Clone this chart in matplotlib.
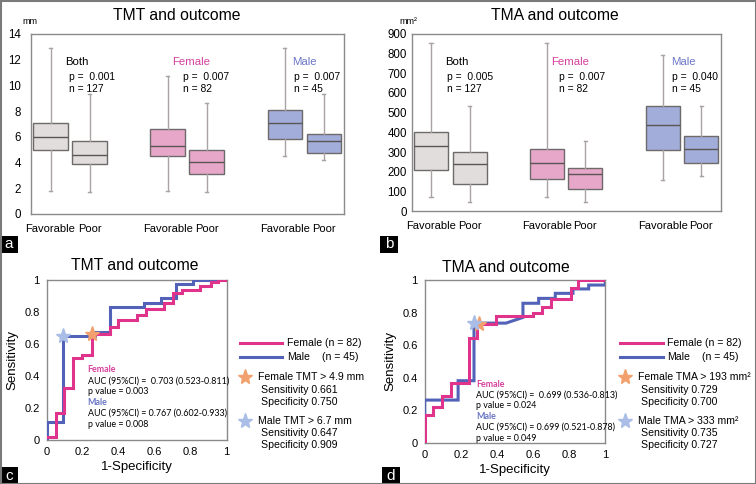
import matplotlib
matplotlib.use("Agg")
import matplotlib.pyplot as plt
from matplotlib.lines import Line2D
from matplotlib.patches import Rectangle

W, H = 756, 484
SANS = ["Liberation Sans", "DejaVu Sans"]
CAL = ["Lato", "DejaVu Sans"]
CAL_SIZE = 6.4
plt.rcParams["font.family"] = SANS

# ---------------- data ----------------
box_labels = ["Favorable", "Poor", "Favorable", "Poor", "Favorable", "Poor"]
groups = ["Both", "Female", "Male"]
group_p_tmt = ["0.001", "0.007", "0.007"]
group_p_tma = ["0.005", "0.007", "0.040"]
group_n = ["127", "82", "45"]

tmt_whislo = [1.8, 1.75, 1.8, 1.75, 4.5, 4.2]
tmt_q1 = [4.95, 3.9, 4.5, 3.1, 5.85, 4.75]
tmt_med = [6.0, 4.6, 5.3, 4.05, 7.05, 5.7]
tmt_q3 = [7.1, 5.7, 6.6, 4.95, 8.1, 6.25]
tmt_whishi = [12.9, 9.3, 10.75, 8.65, 12.9, 9.3]

tma_whislo = [71, 47, 71, 47, 160, 177]
tma_q1 = [211, 138, 164, 113, 312, 243]
tma_med = [329, 240, 243, 188, 436, 317]
tma_q3 = [403, 302, 316, 218, 532, 380]
tma_whishi = [851, 532, 851, 358, 792, 532]

# ROC TMT
tmt_f_fpr = [0, 0.05, 0.05, 0.096, 0.096, 0.148, 0.148, 0.196, 0.196, 0.25, 0.25, 0.352, 0.352,
             0.398, 0.398, 0.5, 0.5, 0.55, 0.55, 0.65, 0.65, 0.70, 0.70, 0.75, 0.75, 0.85, 0.85,
             0.91, 0.91, 0.95, 0.95, 1.0]
tmt_f_tpr = [0.02, 0.02, 0.167, 0.167, 0.323, 0.323, 0.51, 0.51, 0.531, 0.531, 0.661, 0.661, 0.708,
             0.708, 0.75, 0.75, 0.781, 0.781, 0.817, 0.817, 0.854, 0.854, 0.92, 0.92, 0.9375, 0.9375,
             0.965, 0.965, 0.985, 0.985, 1.0, 1.0]
tmt_m_fpr = [0, 0, 0.091, 0.091, 0.27, 0.27, 0.352, 0.352, 0.54, 0.54, 0.633, 0.633, 0.72, 0.72,
             0.815, 0.815, 1.0]
tmt_m_tpr = [0, 0.115, 0.115, 0.647, 0.647, 0.675, 0.675, 0.83, 0.83, 0.854, 0.854, 0.885, 0.885,
             0.975, 0.975, 1.0, 1.0]

# ROC TMA
tma_f_fpr = [0, 0, 0.046, 0.046, 0.096, 0.096, 0.144, 0.144, 0.245, 0.245, 0.29, 0.29, 0.30, 0.30,
             0.397, 0.397, 0.6, 0.6, 0.651, 0.651, 0.701, 0.701, 0.808, 0.808, 0.849, 0.849, 1.0]
tma_f_tpr = [0, 0.17, 0.17, 0.221, 0.221, 0.287, 0.287, 0.369, 0.369, 0.641, 0.641, 0.729, 0.729,
             0.729, 0.729, 0.779, 0.779, 0.8, 0.8, 0.832, 0.832, 0.881, 0.881, 0.953, 0.953, 1.0, 1.0]
tma_m_fpr = [0, 0, 0.185, 0.185, 0.273, 0.273, 0.45, 0.544, 0.544, 0.631, 0.631, 0.723, 0.723,
             0.821, 0.821, 0.908, 0.908, 1.0, 1.0]
tma_m_tpr = [0, 0.262, 0.262, 0.381, 0.381, 0.735, 0.735, 0.77, 0.857, 0.857, 0.887, 0.887, 0.918,
             0.918, 0.945, 0.945, 0.969, 0.969, 0.985]

cut_f_tmt = (0.25, 0.661)
cut_m_tmt = (0.091, 0.647)
cut_f_tma = (0.30, 0.729)
cut_m_tma = (0.273, 0.735)

# ---------------- style ----------------
C_GRAY = "#e2dddd"
C_PINK = "#e7a7c9"
C_BLUE = "#a2add9"
C_EDGE = "#6e6a6a"
C_WHISK = "#a9a3a3"
T_PINK = "#d6409e"
T_BLUE = "#6a76c6"
L_PINK = "#e0338c"
L_BLUE = "#5262b8"
S_ORANGE = "#f2a16e"
S_BLUE = "#a9bde6"
FRAME = "#8a8a8a"

fig = plt.figure(figsize=(W / 100, H / 100), dpi=100)


def rect(x0, y0, x1, y1):
    return [x0 / W, 1 - y1 / H, (x1 - x0) / W, (y1 - y0) / H]


def ftext(x, y, s, **kw):
    kw.setdefault("va", "center")
    return fig.text(x / W, 1 - y / H, s, **kw)


def style_frame(ax):
    for sp in ax.spines.values():
        sp.set_color(FRAME)
        sp.set_linewidth(1.0)
    ax.tick_params(length=0, colors="black")


positions = [1, 2, 4, 5, 7, 8]
fills = [C_GRAY, C_GRAY, C_PINK, C_PINK, C_BLUE, C_BLUE]


def box_panel(r, wlo, q1, med, q3, whi, ylim, yticks, ypad, title, unit, unit_xy, title_xy,
              ann_xy, pvals):
    ax = fig.add_axes(rect(*r))
    stats = []
    for i in range(6):
        stats.append(dict(med=med[i], q1=q1[i], q3=q3[i], whislo=wlo[i], whishi=whi[i],
                          label=box_labels[i]))
    bp = ax.bxp(stats, positions=positions, widths=0.88, showfliers=False, patch_artist=True,
                capwidths=0.08,
                boxprops=dict(edgecolor=C_EDGE, linewidth=1.0),
                medianprops=dict(color="#5a5555", linewidth=1.0),
                whiskerprops=dict(color=C_WHISK, linewidth=1.0),
                capprops=dict(color=C_WHISK, linewidth=1.0))
    for patch, c in zip(bp["boxes"], fills):
        patch.set_facecolor(c)
    ax.set_xlim(0.5, 8.52)
    ax.set_ylim(*ylim)
    ax.set_yticks(yticks)
    style_frame(ax)
    ax.tick_params(axis="y", pad=ypad, labelsize=8.3)
    ax.tick_params(axis="x", pad=7, labelsize=8.0)
    ftext(title_xy[0], title_xy[1], title, fontsize=11.3, ha="center")
    ftext(unit_xy[0], unit_xy[1], unit, fontsize=6.5, ha="left")
    cols = ["black", T_PINK, T_BLUE]
    for i, g in enumerate(groups):
        gx, gy, px = ann_xy[i]
        ftext(gx, gy, g, fontsize=8.2, color=cols[i], ha="left")
        ftext(px, gy + 15, "p =  " + pvals[i], fontsize=7.4, ha="left")
        ftext(px, gy + 27, "n = " + group_n[i], fontsize=7.4, ha="left")
    return ax


box_panel((31, 34, 344, 214), tmt_whislo, tmt_q1, tmt_med, tmt_q3, tmt_whishi,
          (0, 14), list(range(0, 15, 2)), 7, "TMT and outcome", "mm", (22, 22), (177, 16),
          [(65, 62, 69), (172, 62, 183), (292, 62, 294)], group_p_tmt)
box_panel((411.7, 33.7, 721.3, 211.3), tma_whislo, tma_q1, tma_med, tma_q3, tma_whishi,
          (0, 900), list(range(0, 901, 100)), 3.5, "TMA and outcome", "mm²", (399, 22),
          (555, 16), [(444.7, 62, 446.7), (550.7, 62, 559.3), (671.3, 62, 671.7)], group_p_tma)


def roc_panel(r, ffpr, ftpr, mfpr, mtpr, cf, cm, title, title_xy, ann_x, ann_y0, ann_lines,
              leg_x, cut_texts):
    ax = fig.add_axes(rect(*r))
    ax.plot(mfpr, mtpr, color=L_BLUE, lw=2.2, solid_joinstyle="miter", zorder=3)
    ax.plot(ffpr, ftpr, color=L_PINK, lw=2.2, solid_joinstyle="miter", zorder=3)
    ax.plot([cf[0]], [cf[1]], marker="*", ms=11, color=S_ORANGE, mec=S_ORANGE, zorder=5,
            clip_on=False)
    ax.plot([cm[0]], [cm[1]], marker="*", ms=11, color=S_BLUE, mec=S_BLUE, zorder=5,
            clip_on=False)
    ax.set_xlim(0, 1)
    ax.set_ylim(0, 1)
    ticks = [0, 0.2, 0.4, 0.6, 0.8, 1]
    labs = ["0", "0.2", "0.4", "0.6", "0.8", "1"]
    ax.set_xticks(ticks, labs)
    ax.set_yticks(ticks, labs)
    style_frame(ax)
    ax.tick_params(axis="both", pad=5, labelsize=8)
    ax.set_xlabel("1-Specificity", fontsize=9.5, labelpad=3)
    ax.set_ylabel("Sensitivity", fontsize=9.5, labelpad=4)
    ftext(title_xy[0], title_xy[1], title, fontsize=11.3, ha="center")
    y = ann_y0
    for s, kind in ann_lines:
        if kind == "f":
            ftext(ann_x, y, s, fontsize=CAL_SIZE, color=T_PINK, fontweight="bold", family=CAL)
        elif kind == "m":
            ftext(ann_x, y, s, fontsize=CAL_SIZE, color=T_BLUE, fontweight="bold", family=CAL)
        else:
            ftext(ann_x, y, s, fontsize=CAL_SIZE, color="black", family=CAL)
        y += 10.8
    lx0, lx1, tx = leg_x
    fig.add_artist(Line2D([lx0 / W, lx1 / W], [1 - 342.7 / H] * 2, color=L_PINK, lw=2.2))
    fig.add_artist(Line2D([lx0 / W, lx1 / W], [1 - 356.7 / H] * 2, color=L_BLUE, lw=2.2))
    ftext(tx, 342.7, "Female (n = 82)", fontsize=7.6, ha="left")
    ftext(tx, 356.7, "Male", fontsize=7.6, ha="left")
    ftext(tx + 35, 356.7, "(n = 45)", fontsize=7.6, ha="left")
    sx = lx0 + 5
    fig.add_artist(Line2D([sx / W], [1 - 377.3 / H], marker="*", ms=11, color=S_ORANGE,
                          mec=S_ORANGE))
    fig.add_artist(Line2D([sx / W], [1 - 420.5 / H], marker="*", ms=11, color=S_BLUE,
                          mec=S_BLUE))
    fs, ss, sp, ms_, msn, msp = cut_texts
    ftext(sx + 13, 377.3, fs, fontsize=7.6, ha="left")
    ftext(sx + 16, 389.8, ss, fontsize=7.6, ha="left")
    ftext(sx + 16, 402.2, sp, fontsize=7.6, ha="left")
    ftext(sx + 13, 420.5, ms_, fontsize=7.6, ha="left")
    ftext(sx + 16, 432.5, msn, fontsize=7.6, ha="left")
    ftext(sx + 16, 444.5, msp, fontsize=7.6, ha="left")
    return ax


roc_panel((46.7, 280, 226.7, 440), tmt_f_fpr, tmt_f_tpr, tmt_m_fpr, tmt_m_tpr, cut_f_tmt,
          cut_m_tmt, "TMT and outcome", (135, 265), 87.7, 370,
          [("Female", "f"), ("AUC (95%CI) =  0.703 (0.523-0.811)", "k"), ("p value = 0.003", "k"),
           ("Male", "m"), ("AUC (95%CI) = 0.767 (0.602-0.933)", "k"), ("p value = 0.008", "k")],
          (240, 282, 287),
          ("Female TMT > 4.9 mm", "Sensitivity 0.661", "Specificity 0.750",
           "Male TMT > 6.7 mm", "Sensitivity 0.647", "Specificity 0.909"))
roc_panel((424.7, 280, 605.3, 442.7), tma_f_fpr, tma_f_tpr, tma_m_fpr, tma_m_tpr, cut_f_tma,
          cut_m_tma, "TMA and outcome", (506, 268), 476.3, 384.3,
          [("Female", "f"), ("AUC (95%CI) =  0.699 (0.536-0.813)", "k"), ("p value = 0.024", "k"),
           ("Male", "m"), ("AUC (95%CI) = 0.699 (0.521-0.878)", "k"), ("p value = 0.049", "k")],
          (619.7, 663, 667.3),
          ("Female TMA > 193 mm²", "Sensitivity 0.729", "Specificity 0.700",
           "Male TMA > 333 mm²", "Sensitivity 0.735", "Specificity 0.727"))

for lab, (x, y) in zip(["a", "b", "c", "d"], [(0, 236), (380, 236), (0, 467), (382, 467)]):
    fig.add_artist(Rectangle((x / W, 1 - (y + 17) / H), 18 / W, 17 / H, facecolor="black",
                             edgecolor="none", transform=fig.transFigure))
    ftext(x + 9, y + 8.5, lab, fontsize=11, color="white", ha="center")

fig.add_artist(Rectangle((0.5 / W, 0.5 / H), (W - 1) / W, (H - 1) / H, fill=False,
                         edgecolor="#7a7a7a", lw=1.5, transform=fig.transFigure))

fig.savefig("out.png", dpi=100)
